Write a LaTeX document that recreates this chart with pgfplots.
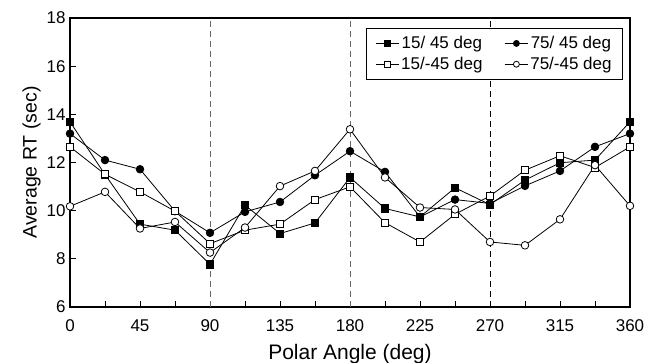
\documentclass[border=0pt]{standalone}
\usepackage{fontspec}
\setmainfont{Liberation Sans}
\usepackage{pgfplots}
\pgfplotsset{compat=1.18}
\begin{document}
\begin{tikzpicture}
\begin{axis}[
  scale only axis,
  width=560pt, height=289pt,
  xmin=0, xmax=360, ymin=6, ymax=18,
  xtick={0,45,...,360},
  minor xtick={22.5,67.5,...,337.5},
  ytick={6,8,...,18},
  xtick pos=left, ytick pos=left,
  tick align=inside,
  major tick length=6pt, minor tick length=6pt,
  every tick/.style={black, line width=0.8pt},
  axis line style={line width=1.1pt},
  /pgf/number format/assume math mode=true,
  tick label style={font=\fontsize{17}{20}\selectfont},
  xticklabel style={yshift=-9pt},
  yticklabel style={xshift=-1pt},
  xlabel={Polar Angle (deg)},
  ylabel={Average RT (sec)},
  xlabel style={font=\fontsize{21}{24}\selectfont, yshift=-6pt},
  ylabel style={font=\fontsize{19.5}{22}\selectfont, yshift=-1pt},
  legend columns=2,
  legend style={at={(0.9875,0.965)}, anchor=north east, draw=black, line width=0.8pt,
    font=\fontsize{17}{20}\selectfont, inner xsep=9pt, inner ysep=6pt,
    /tikz/every even column/.append style={column sep=20pt},
    row sep=3pt},
  legend image code/.code={\draw[#1, mark size=3pt, mark repeat=2, mark phase=2] plot coordinates {(0pt,0pt) (11.5pt,0pt) (23pt,0pt)};},
  every axis plot/.append style={black, line width=0.8pt, mark options={solid, line width=0.8pt}},
  clip=false,
]
\addplot[forget plot, gray!80!black, line width=0.8pt, dash pattern=on 6pt off 4pt] coordinates {(90,6) (90,18)};
\addplot[forget plot, gray!80!black, line width=0.8pt, dash pattern=on 6pt off 4pt] coordinates {(180,6) (180,18)};
\addplot[forget plot, black, line width=0.8pt, dash pattern=on 6pt off 4pt] coordinates {(270,6) (270,18)};

\addplot[mark=square*, mark size=3.6pt, mark options={fill=black}] coordinates {
(0,13.69) (22.5,11.5) (45,9.44) (67.5,9.19) (90,7.77) (112.5,10.23) (135,9.05) (157.5,9.49) (180,11.38)
(202.5,10.09) (225,9.74) (247.5,10.95) (270,10.25) (292.5,11.27) (315,11.99) (337.5,12.1) (360,13.69)};
\addlegendentry{15/ 45 deg}
\addplot[mark=*, mark size=3.8pt, mark options={fill=black}] coordinates {
(0,13.2) (22.5,12.1) (45,11.72) (67.5,9.98) (90,9.08) (112.5,9.95) (135,10.36) (157.5,11.47) (180,12.47)
(202.5,11.61) (225,9.74) (247.5,10.46) (270,10.3) (292.5,11.03) (315,11.65) (337.5,12.65) (360,13.2)};
\addlegendentry{75/ 45 deg}
\addplot[mark=square*, mark size=3.6pt, mark options={fill=white}] coordinates {
(0,12.65) (22.5,11.51) (45,10.78) (67.5,9.98) (90,8.63) (112.5,9.19) (135,9.44) (157.5,10.46) (180,10.99)
(202.5,9.5) (225,8.7) (247.5,9.85) (270,10.61) (292.5,11.68) (315,12.28) (337.5,11.79) (360,12.65)};
\addlegendentry{15/-45 deg}
\addplot[mark=*, mark size=3.8pt, mark options={fill=white}] coordinates {
(0,10.18) (22.5,10.78) (45,9.26) (67.5,9.53) (90,8.26) (112.5,9.3) (135,11.02) (157.5,11.65) (180,13.38)
(202.5,11.38) (225,10.13) (247.5,10.05) (270,8.7) (292.5,8.56) (315,9.64) (337.5,11.89) (360,10.2)};
\addlegendentry{75/-45 deg}
\end{axis}
\pgfresetboundingbox
\path (-70pt,-56pt) rectangle (587pt,307pt);
\end{tikzpicture}
\end{document}
